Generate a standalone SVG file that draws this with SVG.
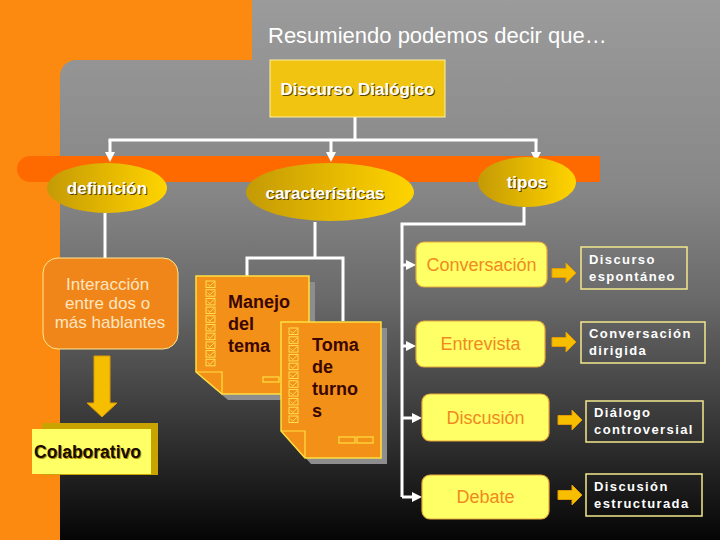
<svg xmlns="http://www.w3.org/2000/svg" width="720" height="540" viewBox="0 0 720 540">
<defs>
<linearGradient id="bg" x1="0" y1="0" x2="0" y2="1">
<stop offset="0" stop-color="#9b9b9b"/>
<stop offset="0.35" stop-color="#878787"/>
<stop offset="0.55" stop-color="#6a6a6a"/>
<stop offset="0.75" stop-color="#3f3f3f"/>
<stop offset="0.9" stop-color="#1c1c1c"/>
<stop offset="1" stop-color="#050505"/>
</linearGradient>
<linearGradient id="gold" x1="0" y1="0" x2="1" y2="0">
<stop offset="0" stop-color="#C49A06"/>
<stop offset="0.55" stop-color="#E6BA00"/>
<stop offset="1" stop-color="#FFD400"/>
</linearGradient>
<marker id="ah" viewBox="0 0 10 10" refX="1" refY="5" markerWidth="10" markerHeight="10" markerUnits="userSpaceOnUse" orient="auto">
<path d="M0,0 L10,5 L0,10 z" fill="#fff"/>
</marker>
<symbol id="chk" overflow="visible">
<rect x="0" y="0" width="9" height="6.5" fill="none" stroke="#FFE85A" stroke-width="0.9"/>
<polyline points="1.5,3 3.8,5.2 8,1.2" fill="none" stroke="#FFE85A" stroke-width="0.9"/>
</symbol>
<symbol id="barr" overflow="visible">
<path d="M0,-4.5 H14 V-10 L24,0 L14,10 V4.5 H0 Z" fill="#F7BE00" stroke="#E39A00" stroke-width="1"/>
</symbol>
</defs>
<style>
.conn{fill:none;stroke:#fff;stroke-width:3}
.ell{fill:url(#gold)}
.et{font-family:"Liberation Sans",Arial,sans-serif;font-weight:bold;font-size:17px;text-anchor:middle;fill:#fff}
.es{font-family:"Liberation Sans",Arial,sans-serif;font-weight:bold;font-size:17px;text-anchor:middle;fill:#5a4200}
.yb{fill:#FFFF66;stroke:#E8A83A;stroke-width:1.2}
.yt{font-family:"Liberation Sans",Arial,sans-serif;font-size:18px;text-anchor:middle;fill:#F08A20}
.db{fill:none;stroke:#F2E88C;stroke-width:1.5}
.dt{font-family:"Liberation Sans",Arial,sans-serif;font-weight:bold;font-size:13px;letter-spacing:1.4px;fill:#fff}
.note{fill:#F39018;stroke:#FFE040;stroke-width:1.5}
.nsh{fill:#8d8d8d}
.nt{font-family:"Liberation Sans",Arial,sans-serif;font-weight:bold;font-size:18px;fill:#3a0600}
.dash{fill:none;stroke:#FFE040;stroke-width:1.2}
</style>
<rect x="0" y="0" width="720" height="540" fill="url(#bg)"/>
<path d="M0,0 H252 V60 H76 A16,16 0 0 0 60,76 V540 H0 Z" fill="#FD8A10"/>
<path d="M30,156 H600 V182 H30 A13,13 0 0 1 30,156 Z" fill="#FF6A00"/>
<text x="268" y="43" font-family="'Liberation Sans',Arial,sans-serif" font-size="22" fill="#fff">Resumiendo podemos decir que…</text>

<g id="connectors">
<path class="conn" d="M355,117 V140 M108.5,140 H537.5"/>
<path class="conn" d="M110,140 V153" marker-end="url(#ah)"/>
<path class="conn" d="M331,140 V153" marker-end="url(#ah)"/>
<path class="conn" d="M536,140 V153" marker-end="url(#ah)"/>
<path class="conn" d="M105,213 V258"/>
<path class="conn" d="M315,222 V258 M247,258 H343 M247,256.5 V276 M343,256.5 V321"/>
<path class="conn" d="M524,207 V224 H402 V497"/>
<path class="conn" d="M402,265 H407" marker-end="url(#ah)"/>
<path class="conn" d="M402,346 H407" marker-end="url(#ah)"/>
<path class="conn" d="M402,418 H413" marker-end="url(#ah)"/>
<path class="conn" d="M402,497 H413" marker-end="url(#ah)"/>
</g>

<g id="discurso-dialogico">
<rect x="270" y="60" width="175" height="57" fill="#F2C412" stroke="#FFF0A0" stroke-width="1"/>
<text class="es" x="358.5" y="96">Discurso Dialógico</text>
<text class="et" x="357.5" y="95">Discurso Dialógico</text>
</g>

<g id="definicion">
<ellipse class="ell" cx="107" cy="188" rx="60" ry="25"/>
<text class="es" x="108" y="195">definición</text>
<text class="et" x="107" y="194">definición</text>
</g>

<g id="caracteristicas">
<ellipse class="ell" cx="330" cy="192" rx="84" ry="29"/>
<text class="es" x="326" y="200">características</text>
<text class="et" x="325" y="199">características</text>
</g>

<g id="tipos">
<ellipse class="ell" cx="527" cy="182" rx="49" ry="25"/>
<text class="es" x="528" y="189">tipos</text>
<text class="et" x="527" y="188">tipos</text>
</g>

<g id="interaccion">
<rect x="43" y="258" width="135" height="91" rx="15" fill="#F0851A" stroke="#FFE890" stroke-width="1"/>
<text font-family="'Liberation Sans',Arial,sans-serif" font-size="17" fill="#FFE6C0" text-anchor="middle">
<tspan x="110" y="290">Interacción</tspan>
<tspan x="110" y="309">entre dos o</tspan>
<tspan x="110" y="328">más hablantes</tspan>
</text>
</g>

<g id="flecha-abajo">
<path d="M94,356 H110 V403 H117 L102,417 L87,403 H94 Z" fill="#F5BE00" stroke="#DD9900" stroke-width="1"/>
</g>

<g id="colaborativo">
<rect x="42" y="423" width="116" height="52" fill="#C9A400"/>
<rect x="32" y="429" width="119" height="45" fill="#FFFF66"/>
<text x="35" y="459" font-family="'Liberation Sans',Arial,sans-serif" font-weight="bold" font-size="17.5" fill="#B09000">Colaborativo</text>
<text x="34" y="458" font-family="'Liberation Sans',Arial,sans-serif" font-weight="bold" font-size="17.5" fill="#1a0a00">Colaborativo</text>
</g>

<g id="manejo-del-tema">
<path class="nsh" d="M202,282 H315 V400 H228 L202,378 Z"/>
<path class="note" d="M196,276 H309 V394 H222 L196,372 Z"/>
<path d="M196,372 H222 V394" fill="none" stroke="#FFE040" stroke-width="1.2"/>
<use href="#chk" x="206" y="281"/>
<use href="#chk" x="206" y="289.7"/>
<use href="#chk" x="206" y="298.4"/>
<use href="#chk" x="206" y="307.1"/>
<use href="#chk" x="206" y="315.8"/>
<use href="#chk" x="206" y="324.5"/>
<use href="#chk" x="206" y="333.2"/>
<use href="#chk" x="206" y="341.9"/>
<use href="#chk" x="206" y="350.6"/>
<use href="#chk" x="206" y="359.3"/>
<text class="nt"><tspan x="228" y="308">Manejo</tspan><tspan x="228" y="330">del</tspan><tspan x="228" y="352">tema</tspan></text>
<rect class="dash" x="263" y="377" width="16" height="5"/>
</g>

<g id="toma-de-turnos">
<path class="nsh" d="M287,328 H387 V464 H311 L287,437 Z"/>
<path class="note" d="M281,322 H381 V458 H305 L281,431 Z"/>
<path d="M281,431 H305 V458" fill="none" stroke="#FFE040" stroke-width="1.2"/>
<use href="#chk" x="289" y="328"/>
<use href="#chk" x="289" y="336.8"/>
<use href="#chk" x="289" y="345.6"/>
<use href="#chk" x="289" y="354.4"/>
<use href="#chk" x="289" y="363.2"/>
<use href="#chk" x="289" y="372"/>
<use href="#chk" x="289" y="380.8"/>
<use href="#chk" x="289" y="389.6"/>
<use href="#chk" x="289" y="398.4"/>
<use href="#chk" x="289" y="407.2"/>
<use href="#chk" x="289" y="416"/>
<text class="nt"><tspan x="312" y="351">Toma</tspan><tspan x="312" y="373">de</tspan><tspan x="312" y="395">turno</tspan><tspan x="312" y="417">s</tspan></text>
<rect class="dash" x="339" y="437" width="16" height="6"/>
<rect class="dash" x="357" y="437" width="16" height="6"/>
</g>

<g id="conversacion">
<rect class="yb" x="416" y="242" width="131" height="45" rx="8"/>
<text class="yt" x="481.5" y="271">Conversación</text>
</g>
<g id="entrevista">
<rect class="yb" x="416" y="321" width="129" height="46" rx="8"/>
<text class="yt" x="480.5" y="350">Entrevista</text>
</g>
<g id="discusion">
<rect class="yb" x="422" y="394" width="127" height="47" rx="8"/>
<text class="yt" x="485.5" y="424">Discusión</text>
</g>
<g id="debate">
<rect class="yb" x="422" y="475" width="127" height="44" rx="8"/>
<text class="yt" x="485.5" y="503">Debate</text>
</g>

<g id="flechas-derecha">
<use href="#barr" x="552" y="273"/>
<use href="#barr" x="552" y="342"/>
<use href="#barr" x="558" y="420"/>
<use href="#barr" x="558" y="495"/>
</g>

<g id="discurso-espontaneo">
<rect class="db" x="581" y="247" width="106" height="42"/>
<text class="dt"><tspan x="589" y="264">Discurso</tspan><tspan x="589" y="281">espontáneo</tspan></text>
</g>
<g id="conversacion-dirigida">
<rect class="db" x="581" y="322" width="124" height="41"/>
<text class="dt"><tspan x="589" y="338">Conversación</tspan><tspan x="589" y="355">dirigida</tspan></text>
</g>
<g id="dialogo-controversial">
<rect class="db" x="586" y="401" width="117" height="41"/>
<text class="dt"><tspan x="594" y="417">Diálogo</tspan><tspan x="594" y="434">controversial</tspan></text>
</g>
<g id="discusion-estructurada">
<rect class="db" x="586" y="474" width="116" height="42"/>
<text class="dt"><tspan x="594" y="491">Discusión</tspan><tspan x="594" y="508">estructurada</tspan></text>
</g>
</svg>
